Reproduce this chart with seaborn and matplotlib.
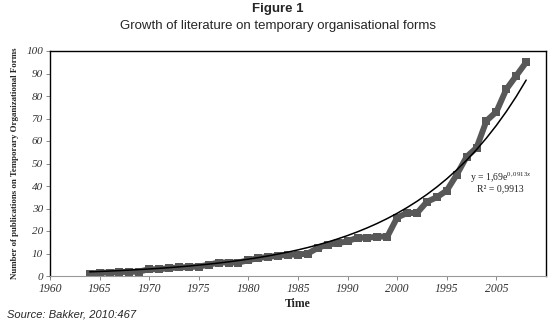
import numpy as np
import pandas as pd
import matplotlib
matplotlib.use("Agg")
import matplotlib.pyplot as plt
import seaborn as sns

years = list(range(1964, 2009))
publications = [1, 1.5, 1.5, 1.8, 1.8, 2, 3, 3, 3.5, 3.8,
                4, 4.2, 5, 6, 6, 6, 7, 8, 8.5, 9,
                9.5, 9.5, 10, 12.5, 14, 14.5, 15.5, 17, 17, 17.5,
                17.5, 26, 28, 28, 33, 35, 38, 45, 53, 57,
                69, 73, 83, 89, 95]
trend_a = 1.69
trend_b = 0.0876
x_ticks = [1960, 1965, 1970, 1975, 1980, 1985, 1990, 1995, 2000, 2005]
x_tick_labels = ["1960", "1965", "1970", "1975", "1980", "1985", "1990", "2000", "1995", "2005"]
y_ticks = [0, 10, 20, 30, 40, 50, 60, 70, 80, 90, 100]

sns.set_style("ticks")
plt.rcParams['font.family'] = ['Liberation Serif', 'DejaVu Serif']
plt.rcParams['mathtext.fontset'] = 'custom'
plt.rcParams['mathtext.rm'] = 'Liberation Serif'
plt.rcParams['mathtext.it'] = 'Liberation Serif:italic'

df = pd.DataFrame({"Year": years, "Publications": publications})
idx = np.arange(1, len(years) + 1)
trend = pd.DataFrame({"Year": years, "Trend": trend_a * np.exp(trend_b * idx)})

fig = plt.figure(figsize=(5.56, 3.23), dpi=100)
ax = fig.add_axes([50 / 556, 47 / 323, 496 / 556, 225 / 323])

sns.lineplot(data=df, x="Year", y="Publications", ax=ax, color="#585858",
             linewidth=4.3, marker="s", markersize=6, markeredgewidth=0,
             markerfacecolor="#585858", zorder=2)
sns.lineplot(data=trend, x="Year", y="Trend", ax=ax, color="black",
             linewidth=1.1, zorder=3)

ax.set_xlim(1960, 2010)
ax.set_ylim(0, 100)
ax.set_xticks(x_ticks)
ax.set_xticklabels(x_tick_labels, fontstyle="italic", fontsize=8.5, color="#333333")
ax.set_yticks(y_ticks)
ax.set_yticklabels([str(v) for v in y_ticks], fontstyle="italic", fontsize=8, color="#333333")
ax.tick_params(axis="both", length=3, width=0.6, color="#777777", pad=2)

for s in ["top", "right", "left"]:
    ax.spines[s].set_visible(True)
    ax.spines[s].set_color("black")
    ax.spines[s].set_linewidth(1.0)
ax.spines["bottom"].set_color("#999999")
ax.spines["bottom"].set_linewidth(0.8)

ax.set_xlabel("Time", fontsize=8.5, fontweight="bold", labelpad=2)
ax.set_ylabel("Number of publications on Temporary Organizational Forms",
              fontsize=6.4, fontweight="bold", labelpad=5)

ax.text(2002.3, 43.6, r"y = 1,69e$^{0,0913x}$", fontsize=7, color="#222222",
        ha="left", va="center")
ax.text(2003.0, 38.6, r"R² = 0,9913", fontsize=7, color="#222222",
        ha="left", va="center")

fig.text(0.5, 0.972, "Figure 1", ha="center", va="center", fontsize=9.5,
         fontweight="bold", family="Liberation Sans")
fig.text(0.5, 0.92, "Growth of literature on temporary organisational forms",
         ha="center", va="center", fontsize=9.5, family="Liberation Sans")
fig.text(0.012, 0.025, "Source: Bakker, 2010:467", ha="left", va="center",
         fontsize=8, fontstyle="italic", family="Liberation Sans")

fig.savefig("out.png", dpi=100, facecolor="white")
